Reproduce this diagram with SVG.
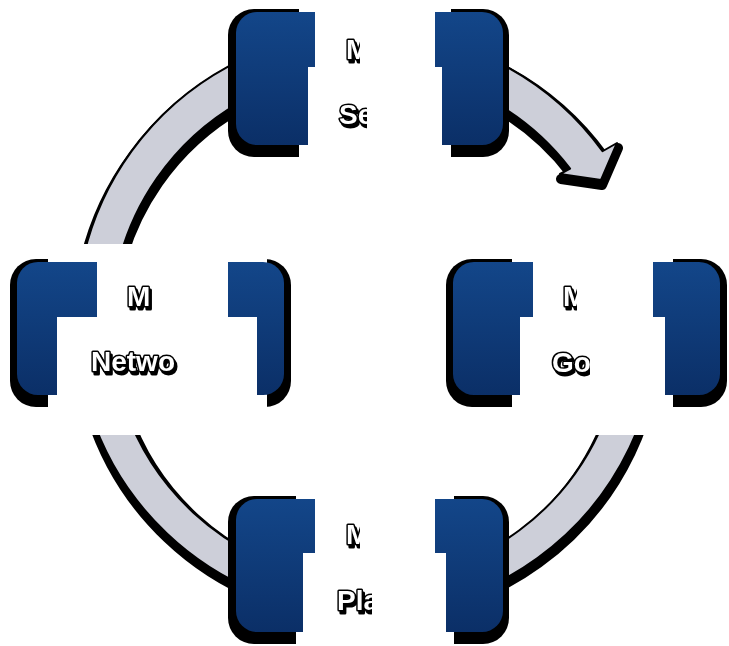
<svg xmlns="http://www.w3.org/2000/svg" width="729" height="646" viewBox="0 0 729 646">
<defs>
<linearGradient id="bg" x1="0" y1="0" x2="0" y2="1">
<stop offset="0" stop-color="#134689"/>
<stop offset="1" stop-color="#0B2F67"/>
</linearGradient>
<filter id="tsh" x="-20%" y="-30%" width="150%" height="170%">
<feDropShadow dx="2" dy="3" stdDeviation="0.3" flood-color="#000" flood-opacity="1"/>
</filter>
<clipPath id="cT1"><rect x="0" y="0" width="360" height="646"/></clipPath>
<clipPath id="cT2"><rect x="0" y="0" width="367" height="646"/></clipPath>
<clipPath id="cL1"><rect x="0" y="0" width="153" height="646"/></clipPath>
<clipPath id="cL2"><rect x="0" y="0" width="182" height="646"/></clipPath>
<clipPath id="cR1"><rect x="0" y="0" width="577" height="646"/></clipPath>
<clipPath id="cR2"><rect x="0" y="0" width="590" height="646"/></clipPath>
<clipPath id="cB1"><rect x="0" y="0" width="360" height="646"/></clipPath>
<clipPath id="cB2"><rect x="0" y="0" width="372" height="646"/></clipPath>
</defs>
<style>
.shd{fill:#000}
.wh{fill:#fff}
.box{fill:url(#bg)}
.t{font-family:"Liberation Sans",Arial,sans-serif;font-weight:bold;font-size:28px;fill:#fff;stroke:#000;stroke-width:3;paint-order:stroke;stroke-linejoin:round;filter:url(#tsh)}
.arc{fill:#CDCFD9;stroke:#000;stroke-width:2;stroke-linejoin:round}
.arcs{fill:#000;stroke:#000;stroke-width:10;stroke-linejoin:round}
</style>
<rect width="729" height="646" fill="#fff"/>
<g id="connectors">
<path class="arcs" transform="translate(1,5)" d="M 658,323 A 291 291 0 1 1 602.5,151.25 L 617,143 L 601,180 L 560,174 L 570.1,168.65 A 256 256 0 1 0 623,323 Z"/>
<path class="arc" d="M 658,323 A 291 291 0 1 1 602.5,151.25 L 617,143 L 601,180 L 560,174 L 570.1,168.65 A 256 256 0 1 0 623,323 Z"/>
</g>
<g id="node-top">
<rect class="shd" x="228" y="9" width="281" height="148" rx="26"/>
<rect class="wh" x="299" y="0" width="152" height="170"/>
<rect class="box" x="236" y="12" width="267" height="133" rx="21"/>
<rect class="wh" x="315" y="0" width="120" height="67"/>
<rect class="wh" x="308" y="67" width="134" height="103"/>
<g clip-path="url(#cT1)"><text class="t" x="346" y="59">M</text></g>
<g clip-path="url(#cT2)"><text class="t" x="339" y="124">Se</text></g>
</g>
<g id="node-left">
<rect class="shd" x="10" y="259" width="281" height="148" rx="26"/>
<rect class="wh" x="48" y="244" width="219" height="191"/>
<rect class="box" x="17" y="262" width="267" height="133" rx="21"/>
<rect class="wh" x="97" y="244" width="131" height="73"/>
<rect class="wh" x="57" y="317" width="200" height="118"/>
<g clip-path="url(#cL1)"><text class="t" x="127" y="306">M</text></g>
<g clip-path="url(#cL2)"><text class="t" x="91" y="371">Netwo</text></g>
</g>
<g id="node-right">
<rect class="shd" x="446" y="259" width="281" height="148" rx="26"/>
<rect class="wh" x="512" y="244" width="161" height="191"/>
<rect class="box" x="453" y="262" width="267" height="133" rx="21"/>
<rect class="wh" x="533" y="244" width="120" height="73"/>
<rect class="wh" x="520" y="317" width="145" height="118"/>
<g clip-path="url(#cR1)"><text class="t" x="563" y="306">M</text></g>
<g clip-path="url(#cR2)"><text class="t" x="552" y="372">Go</text></g>
</g>
<g id="node-bottom">
<rect class="shd" x="228" y="496" width="281" height="148" rx="26"/>
<rect class="wh" x="296" y="480" width="158" height="166"/>
<rect class="box" x="236" y="499" width="267" height="133" rx="21"/>
<rect class="wh" x="315" y="480" width="120" height="73"/>
<rect class="wh" x="303" y="553" width="143" height="93"/>
<g clip-path="url(#cB1)"><text class="t" x="346" y="544">M</text></g>
<g clip-path="url(#cB2)"><text class="t" x="337" y="610">Pla</text></g>
</g>
</svg>
